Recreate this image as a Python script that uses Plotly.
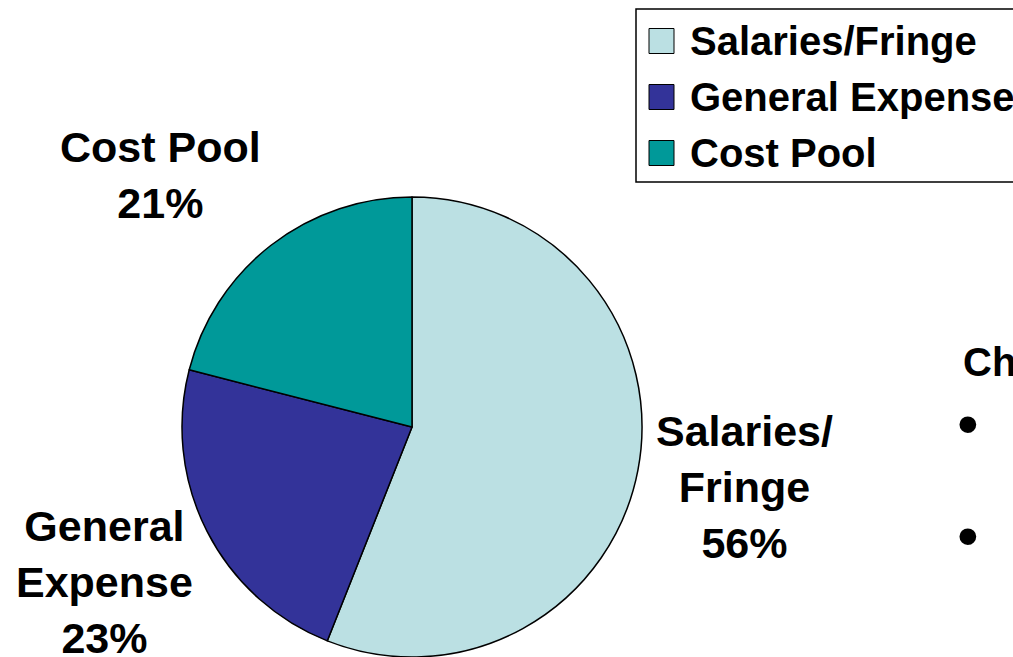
import plotly.graph_objects as go

# ---- data ----
categories = ["Salaries/Fringe", "General Expense", "Cost Pool"]
values = [56, 23, 21]
pie_labels = ["Salaries/<br>Fringe<br>56%", "General<br>Expense<br>23%", "Cost Pool<br>21%"]
colors = ["#BBE0E3", "#333399", "#009999"]
side_text = "Ch"
bullets = ["•", "•"]

W, H = 1013, 657
FONT = "Arial, Liberation Sans, sans-serif"


def px(x):
    return x / W


def py(y):
    return 1 - y / H


fig = go.Figure()
fig.add_trace(go.Pie(
    labels=categories,
    values=values,
    sort=False,
    direction="clockwise",
    rotation=0,
    marker=dict(colors=colors, line=dict(color="black", width=1.5)),
    textinfo="none",
    showlegend=False,
    domain=dict(x=[px(182), px(642)], y=[py(657), py(197)]),
))

annotations = []
# pie labels (text centre positions)
label_pos = [(744, 487, "center"), (104, 582, "center"), (160, 175, "center")]
for txt, (x, y, al) in zip(pie_labels, label_pos):
    annotations.append(dict(
        x=px(x), y=py(y), xref="paper", yref="paper", text="<b>" + txt + "</b>",
        showarrow=False, xanchor="center", yanchor="middle", align=al,
        font=dict(family=FONT, size=43, color="black"),
    ))

shapes = []
# legend frame
shapes.append(dict(type="rect", xref="paper", yref="paper",
                   x0=px(636), x1=px(1030), y0=py(182), y1=py(9),
                   line=dict(color="black", width=1.5), fillcolor="rgba(0,0,0,0)"))
leg_y = [41, 97, 153]
for cat, col, yc in zip(categories, colors, leg_y):
    shapes.append(dict(type="rect", xref="paper", yref="paper",
                       x0=px(649), x1=px(674), y0=py(yc + 12.5), y1=py(yc - 12.5),
                       line=dict(color="black", width=1), fillcolor=col))
    annotations.append(dict(
        x=px(688), y=py(yc), xref="paper", yref="paper", text="<b>" + cat + "</b>",
        showarrow=False, xanchor="left", yanchor="middle",
        font=dict(family=FONT, size=40, color="black"),
    ))

# partially visible slide text on the right
annotations.append(dict(
    x=px(961), y=py(362), xref="paper", yref="paper", text="<b>" + side_text + "</b>",
    showarrow=False, xanchor="left", yanchor="middle",
    font=dict(family=FONT, size=40, color="black"),
))
for b, yc in zip(bullets, [423, 535]):
    annotations.append(dict(
        x=px(968), y=py(yc), xref="paper", yref="paper", text=b,
        showarrow=False, xanchor="center", yanchor="middle",
        font=dict(family=FONT, size=62, color="black"),
    ))

fig.update_layout(
    width=W, height=H,
    margin=dict(l=0, r=0, t=0, b=0),
    paper_bgcolor="white", plot_bgcolor="white",
    annotations=annotations, shapes=shapes,
)
fig.write_html(
    "out.html",
    config={"displayModeBar": False},
    post_script="document.body.style.margin='0';document.body.style.overflow='hidden';",
)
